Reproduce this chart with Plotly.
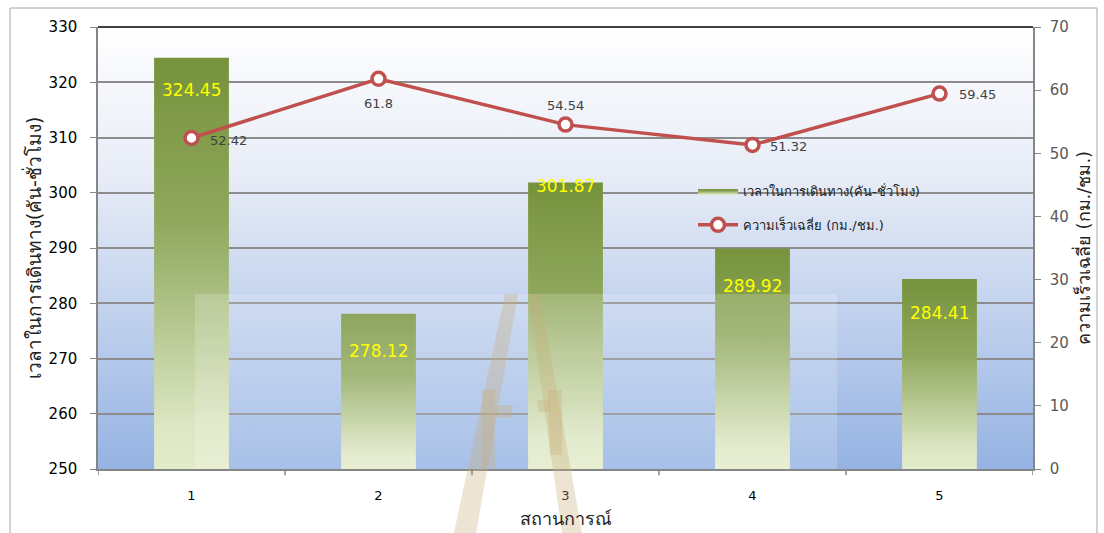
import base64
import plotly.graph_objects as go

# ---- data ----
scenarios = [1, 2, 3, 4, 5]
travel_time = [324.45, 278.12, 301.87, 289.92, 284.41]   # vehicle-hours (left axis)
avg_speed = [52.42, 61.8, 54.54, 51.32, 59.45]            # km/h (right axis)
left_ticks = [250, 260, 270, 280, 290, 300, 310, 320, 330]
right_ticks = [0, 10, 20, 30, 40, 50, 60, 70]

bar_name = "เวลาในการเดินทาง(คัน-ชั่วโมง)"
line_name = "ความเร็วเฉลี่ย (กม./ชม.)"
x_title = "สถานการณ์"
y_title = "เวลาในการเดินทาง(คัน-ชั่วโมง)"
y2_title = "ความเร็วเฉลี่ย (กม./ชม.)"

# ---- style ----
FONT = "DejaVu Sans, Noto Sans, sans-serif"
BASE = left_ticks[0]
HALF_W = 0.2
bar_label_drop = [32, 37, 4, 38, 34]
line_label_shift = [(37, -2), (0, -25), (0, 19), (36, -2), (38, -1)]   # (xshift, yshift) px

fig = go.Figure()

# gradient bars (one polygon per category, built from the data)
for i, (x, v) in enumerate(zip(range(len(scenarios)), travel_time)):
    fig.add_trace(go.Scatter(
        x=[x - HALF_W, x + HALF_W, x + HALF_W, x - HALF_W, x - HALF_W],
        y=[BASE, BASE, v, v, BASE],
        mode="lines", fill="toself", line=dict(width=0),
        fillcolor="#8aa455",
        fillgradient=dict(type="vertical",
                          colorscale=[[0, "#e3ecca"], [0.1, "#dde7c4"], [0.6, "#8fa85d"], [1, "#76923c"]]),
        name=bar_name, legendgroup="bars", showlegend=(i == 0),
        hoverinfo="skip", yaxis="y",
    ))

# speed line
fig.add_trace(go.Scatter(
    x=list(range(len(scenarios))), y=avg_speed, yaxis="y2",
    mode="lines+markers", name=line_name,
    line=dict(color="#c0504d", width=3.5),
    marker=dict(size=13, color="white", line=dict(color="#c0504d", width=3.5)),
    hoverinfo="skip",
))

# line value labels
for i, v in enumerate(avg_speed):
    dx, dy = line_label_shift[i]
    fig.add_annotation(x=i, y=v, yref="y2", text=f"{v:g}", showarrow=False,
                       xshift=dx, yshift=dy,
                       font=dict(family=FONT, size=13, color="#404040"))

# bar value labels
for i, v in enumerate(travel_time):
    fig.add_annotation(x=i, y=v, yref="y", text=f"{v:.2f}", showarrow=False,
                       yanchor="middle", yshift=-bar_label_drop[i],
                       font=dict(family=FONT, size=17, color="#ffff00"))

# background gradient image
svg = ('<svg xmlns="http://www.w3.org/2000/svg" width="100" height="100" preserveAspectRatio="none">'
       '<defs><linearGradient id="g" x1="0" y1="0" x2="0" y2="1">'
       '<stop offset="0" stop-color="#ffffff"/><stop offset="0.35" stop-color="#e6ebf6"/>'
       '<stop offset="1" stop-color="#95b3e3"/></linearGradient></defs>'
       '<rect width="100" height="100" fill="url(#g)"/></svg>')
src = "data:image/svg+xml;base64," + base64.b64encode(svg.encode()).decode()
fig.add_layout_image(source=src, xref="paper", yref="paper", x=0, y=1, sizex=1, sizey=1,
                     sizing="stretch", xanchor="left", yanchor="top", layer="below")

# plot-area pixel geometry for decoration (frame and scan watermark)
L, R, T, B = 98, 1033, 27, 469
def px(x): return (x - L) / (R - L)
def py(y): return (B - y) / (B - T)
def poly(pts):
    return "M" + " L".join(f"{px(a):.4f},{py(b):.4f}" for a, b in pts) + " Z"

# outer frame and top border
fig.add_shape(type="rect", xref="paper", yref="paper", x0=px(10), x1=px(1097), y0=py(560), y1=py(8),
              line=dict(color="#a6a6a6", width=1))
fig.add_shape(type="line", xref="paper", yref="paper", x0=0, x1=1, y0=1, y1=1,
              line=dict(color="#000000", width=1.5))

# faint scanned watermark: light box + logo strokes
fig.add_shape(type="rect", xref="paper", yref="paper", x0=px(195), x1=px(837), y0=py(469), y1=py(294),
              fillcolor="rgba(255,255,255,0.18)", line=dict(width=0), layer="above")
wm = "rgba(200,172,120,0.33)"
for pts in [
    [(505, 294), (518, 294), (476, 533), (454, 533)],
    [(528, 294), (540, 294), (582, 533), (562, 533)],
    [(482, 390), (495, 390), (495, 468), (482, 468)],
    [(495, 405), (513, 405), (511, 418), (495, 418)],
    [(537, 400), (550, 400), (550, 412), (539, 412)],
    [(548, 390), (562, 390), (562, 455), (550, 455)],
]:
    fig.add_shape(type="path", xref="paper", yref="paper", path=poly(pts),
                  fillcolor=wm, line=dict(width=0), layer="above")

fig.update_layout(
    width=1104, height=533,
    margin=dict(l=L, r=1104 - R, t=T, b=533 - B, autoexpand=False),
    paper_bgcolor="white", plot_bgcolor="rgba(0,0,0,0)",
    font=dict(family=FONT, color="#000000"),
    showlegend=True,
    legend=dict(x=px(693), y=py(176), xanchor="left", yanchor="top", bgcolor="rgba(0,0,0,0)",
                font=dict(family=FONT, size=13, color="#222222"), tracegroupgap=14,
                itemwidth=40),
    xaxis=dict(range=[-0.5, len(scenarios) - 0.5], tickmode="array", automargin=False,
               tickvals=list(range(len(scenarios))), ticktext=[str(s) for s in scenarios],
               showgrid=False, zeroline=False, showline=True, linecolor="#868686", linewidth=1.5,
               ticks="", ticklabelstandoff=14, tickfont=dict(family=FONT, size=13, color="#000000"),
               title=dict(text=x_title, font=dict(family=FONT, size=18, color="#222222"), standoff=10)),
    yaxis=dict(range=[left_ticks[0], left_ticks[-1]], tickvals=left_ticks, automargin=False,
               showgrid=True, gridcolor="#8c8c8c", gridwidth=1.5, zeroline=False,
               showline=True, linecolor="#868686", linewidth=1.5, ticks="outside", ticklen=6,
               ticklabelstandoff=10,
               tickcolor="#868686", tickfont=dict(family=FONT, size=15, color="#000000"),
               title=dict(text=y_title, font=dict(family=FONT, size=19, color="#222222"), standoff=2)),
    yaxis2=dict(range=[right_ticks[0], right_ticks[-1]], tickvals=right_ticks, overlaying="y",
                side="right", showgrid=False, zeroline=False, showline=True, linecolor="#868686",
                automargin=False,
                linewidth=1.5, ticks="outside", ticklen=6, tickcolor="#868686", ticklabelstandoff=6,
                tickfont=dict(family=FONT, size=15, color="#595959"),
                title=dict(text=y2_title, font=dict(family=FONT, size=18, color="#222222"), standoff=10)),
)

# category boundary ticks on x axis
for b in [k - 0.5 for k in range(len(scenarios) + 1)]:
    fig.add_shape(type="line", xref="x", yref="paper", x0=b, x1=b, y0=0, y1=-0.014,
                  line=dict(color="#868686", width=1.5))

fig.write_html("out.html")
